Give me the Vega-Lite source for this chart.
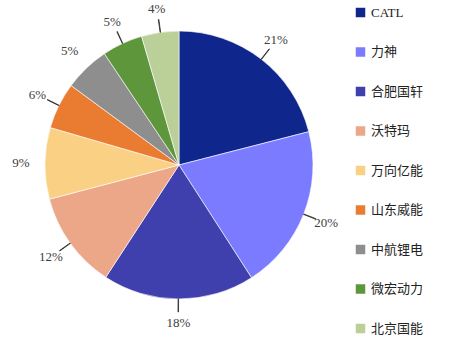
{
  "$schema": "https://vega.github.io/schema/vega-lite/v6.json",
  "width": 358,
  "height": 330,
  "autosize": {"type": "none"},
  "padding": {"left": 0, "top": 0, "right": 97, "bottom": 26},
  "background": "white",
  "config": {"view": {"stroke": null}, "font": "Liberation Serif"},
  "data": {
    "values": [
      {"idx": 1, "name": "CATL", "share": 21.0, "label": "21%"},
      {"idx": 2, "name": "力神", "share": 19.9, "label": "20%"},
      {"idx": 3, "name": "合肥国轩", "share": 18.3, "label": "18%"},
      {"idx": 4, "name": "沃特玛", "share": 11.7, "label": "12%"},
      {"idx": 5, "name": "万向亿能", "share": 8.6, "label": "9%"},
      {"idx": 6, "name": "山东威能", "share": 5.6, "label": "6%"},
      {"idx": 7, "name": "中航锂电", "share": 5.5, "label": "5%"},
      {"idx": 8, "name": "微宏动力", "share": 4.9, "label": "5%"},
      {"idx": 9, "name": "北京国能", "share": 4.5, "label": "4%"}
    ]
  },
  "layer": [
    {
      "mark": {"type": "arc", "outerRadius": 134, "stroke": "white", "strokeWidth": 0.6},
      "encoding": {
        "theta": {"field": "share", "type": "quantitative", "stack": true},
        "order": {"field": "idx", "type": "quantitative"},
        "color": {
          "field": "name",
          "type": "nominal",
          "sort": ["CATL", "力神", "合肥国轩", "沃特玛", "万向亿能", "山东威能", "中航锂电", "微宏动力", "北京国能"],
          "scale": {
            "domain": ["CATL", "力神", "合肥国轩", "沃特玛", "万向亿能", "山东威能", "中航锂电", "微宏动力", "北京国能"],
            "range": ["#0f268c", "#7b7bff", "#3f3fae", "#eca789", "#fad084", "#ea7c32", "#8e8e8e", "#5e963c", "#bbcf98"]
          },
          "legend": {
            "title": null,
            "orient": "none",
            "legendX": 354,
            "legendY": 6,
            "padding": 0,
            "symbolType": "square",
            "symbolSize": 90,
            "symbolStrokeWidth": 0,
            "labelFont": "Liberation Serif, Noto Sans CJK SC",
            "labelFontSize": 13,
            "labelColor": "#222222",
            "labelOffset": 4,
            "rowPadding": 25.5
          }
        }
      }
    },
    {
      "transform": [
        {"window": [{"op": "sum", "field": "share", "as": "cum"}], "sort": [{"field": "idx"}]},
        {"calculate": "datum.cum - datum.share / 2", "as": "mid"},
        {"calculate": "datum.mid + 0.06", "as": "mid2"},
        {"filter": "datum.idx != 5 && datum.idx != 7"}
      ],
      "mark": {"type": "arc", "radius": 134, "radius2": 147, "stroke": "#333333", "strokeWidth": 0.8, "fill": "#333333"},
      "encoding": {
        "theta": {"field": "mid", "type": "quantitative", "stack": null, "scale": {"domain": [0, 100]}},
        "theta2": {"field": "mid2"}
      }
    },
    {
      "mark": {"type": "text", "radius": 158, "font": "Liberation Serif", "fontSize": 13, "color": "#404040"},
      "encoding": {
        "theta": {"field": "share", "type": "quantitative", "stack": true},
        "order": {"field": "idx", "type": "quantitative"},
        "text": {"field": "label", "type": "nominal"}
      }
    }
  ],
  "resolve": {"scale": {"theta": "independent"}}
}
